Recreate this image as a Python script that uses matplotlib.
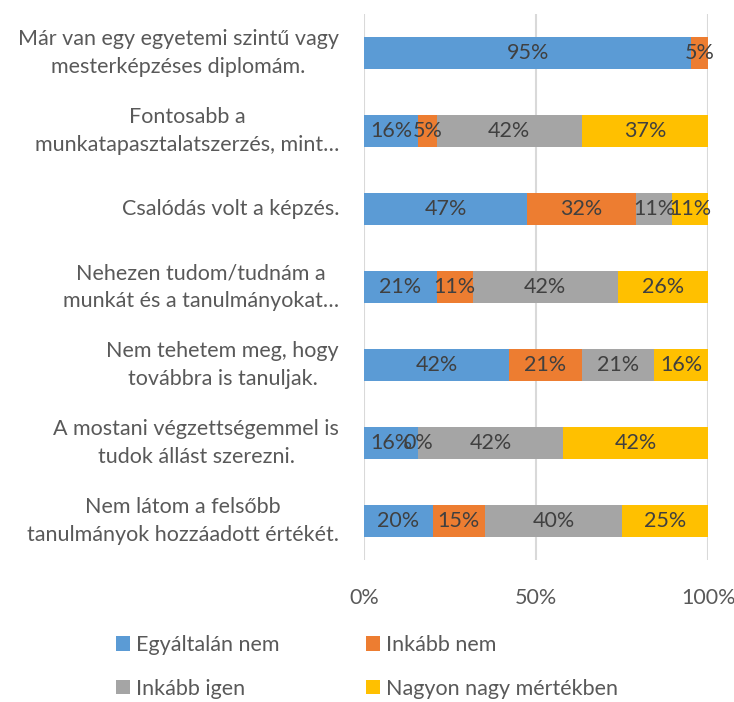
import matplotlib
matplotlib.use("Agg")
import matplotlib.pyplot as plt
import numpy as np

plt.rcParams['font.family'] = ['Lato', 'DejaVu Sans']

categories = [
    "Már van egy egyetemi szintű vagy\nmesterképzéses diplomám.",
    "Fontosabb a\nmunkatapasztalatszerzés, mint…",
    "Csalódás volt a képzés.",
    "Nehezen tudom/tudnám a\nmunkát és a tanulmányokat…",
    "Nem tehetem meg, hogy\ntovábbra is tanuljak.",
    "A mostani végzettségemmel is\ntudok állást szerezni.",
    "Nem látom a felsőbb\ntanulmányok hozzáadott értékét.",
]
series_names = ["Egyáltalán nem", "Inkább nem", "Inkább igen", "Nagyon nagy mértékben"]
egyaltalan_nem = [95.0, 15.8, 47.4, 21.1, 42.1, 15.8, 20.0]
inkabb_nem     = [5.0, 5.3, 31.6, 10.5, 21.1, 0.0, 15.0]
inkabb_igen    = [np.nan, 42.1, 10.5, 42.1, 21.1, 42.1, 40.0]
nagyon_nagy    = [np.nan, 36.8, 10.5, 26.3, 15.8, 42.1, 25.0]
xticks = [0, 50, 100]
xtick_labels = ["0%", "50%", "100%"]

colors = ["#5B9BD5", "#ED7D31", "#A5A5A5", "#FFC000"]
series = [egyaltalan_nem, inkabb_nem, inkabb_igen, nagyon_nagy]

FS = 15.5
fig = plt.figure(figsize=(7.34, 7.02), dpi=100)
ax = fig.add_axes([0.496, 0.202, 0.469, 0.778])

y = np.arange(len(categories))
left = np.zeros(len(categories))
for name, vals, c in zip(series_names, series, colors):
    v = np.array(vals, dtype=float)
    w = np.nan_to_num(v)
    ax.barh(y, w, left=left, height=0.41, color=c, label=name, zorder=2)
    for i in range(len(y)):
        if not np.isnan(v[i]):
            ax.text(left[i] + w[i] / 2, y[i], f"{int(v[i] + 0.5)}%", ha='center', va='center',
                    fontsize=FS, color='#404040', zorder=3)
    left += w

ax.set_ylim(len(categories) - 0.5, -0.5)
ax.set_xlim(0, 100)
ax.set_yticks(y)
ax.set_yticklabels(categories, fontsize=FS, color='#595959', multialignment='center',
                   linespacing=1.5, va='center')
ax.set_xticks(xticks)
ax.set_xticklabels(xtick_labels, fontsize=FS, color='#595959')
ax.tick_params(axis='both', length=0)
ax.tick_params(axis='y', pad=18)
ax.tick_params(axis='x', pad=20)
for s in ax.spines.values():
    s.set_visible(False)
ax.xaxis.grid(True, color='#D9D9D9', linewidth=1.5, zorder=0)
ax.set_axisbelow(True)

handles, labels = ax.get_legend_handles_labels()
order = [0, 2, 1, 3]
fig.legend([handles[k] for k in order], [labels[k] for k in order], loc='center',
           bbox_to_anchor=(0.5, 0.050), ncol=2,
           frameon=False, fontsize=FS, labelcolor='#595959', handlelength=0.65,
           handleheight=0.65, handletextpad=0.3, columnspacing=4.0, labelspacing=1.1)

fig.savefig("out.png", dpi=100)
